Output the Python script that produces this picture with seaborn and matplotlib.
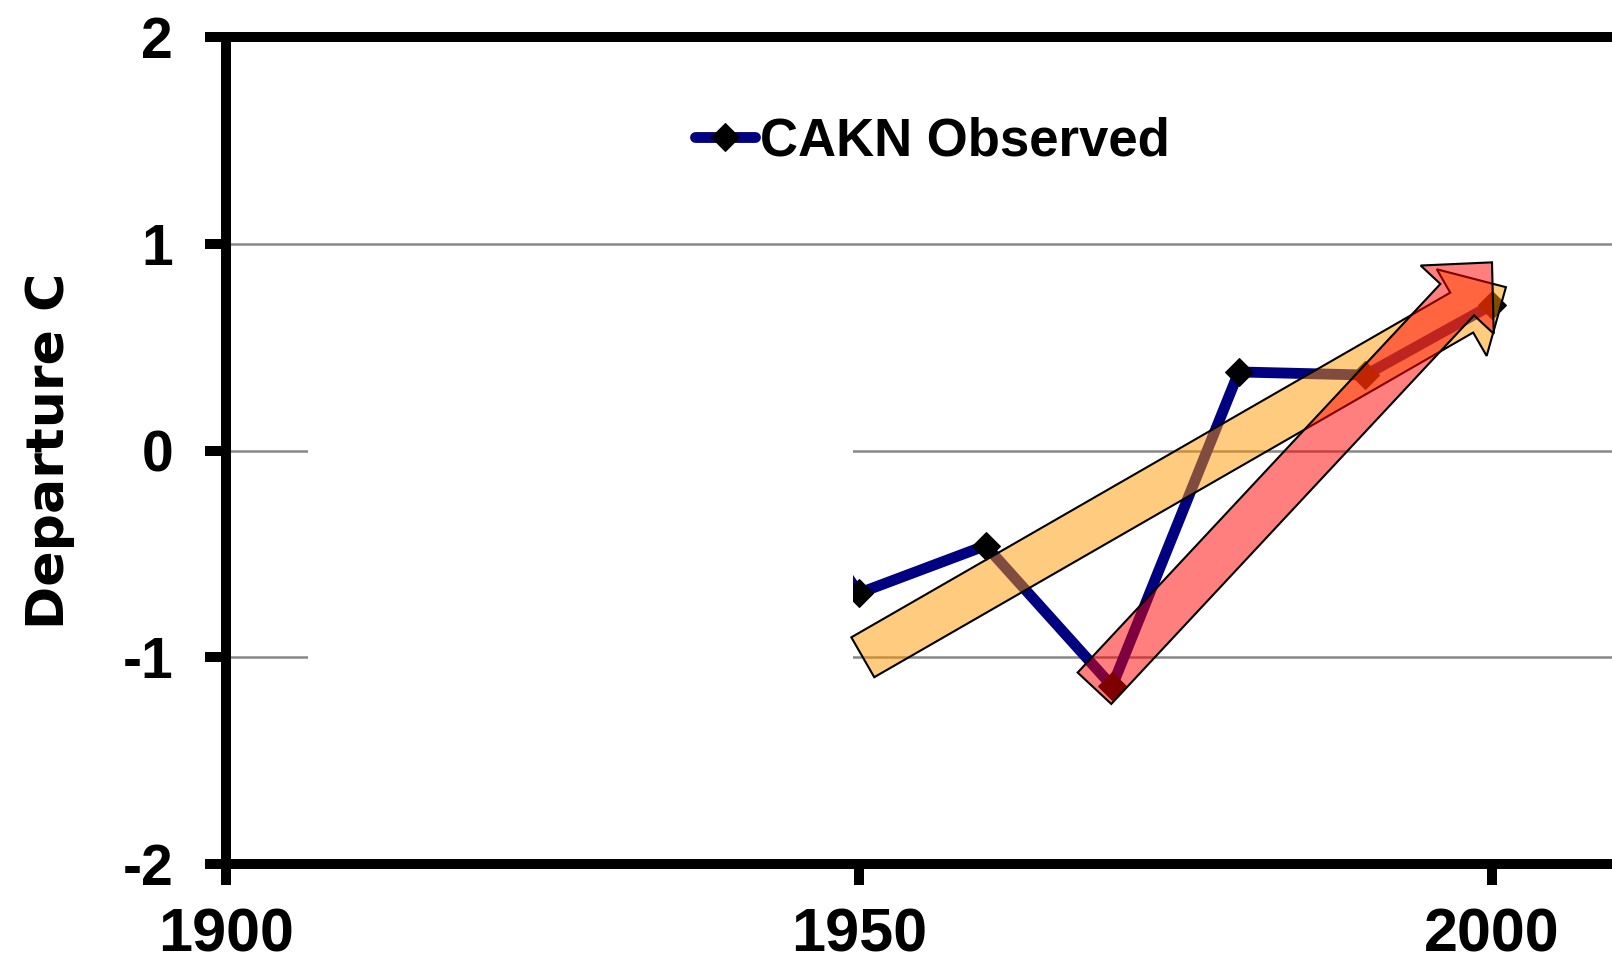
import matplotlib
matplotlib.use("Agg")
import matplotlib.pyplot as plt
from matplotlib.patches import Polygon, Rectangle
import seaborn as sns
import numpy as np

# decade means, departure in C (1940 lies under the white mask)
years = [1940, 1950, 1960, 1970, 1980, 1990, 2000]
departure = [0.2, -0.69, -0.46, -1.14, 0.38, 0.365, 0.705]
series_name = "CAKN Observed"

# trend arrows: start year, start value, end year, end value
arrow_long = (1950.3, -1.0, 2001.1, 0.79)
arrow_short = (1968.6, -1.15, 2000.0, 0.91)

# white patch hiding the early record: x0, x1, y0, y1
mask_box = (1906.5, 1949.5, -2.0, 0.9)

x_ticks = [1900, 1950, 2000]
y_ticks = [-2, -1, 0, 1, 2]

sns.set_theme(style="white")
plt.rcParams["font.family"] = ["Liberation Sans", "DejaVu Sans"]
plt.rcParams["axes.unicode_minus"] = False
for key in ["text.color", "axes.labelcolor", "xtick.color", "ytick.color"]:
    plt.rcParams[key] = "black"

W, H = 1612, 966
fig = plt.figure(figsize=(W / 100, H / 100), dpi=100)
ax = fig.add_axes([226 / W, 102 / H, 1392.6 / W, 827 / H])
ax.set_xlim(1900, 2010)
ax.set_ylim(-2, 2)

sns.lineplot(x=years, y=departure, ax=ax, color="#000080", lw=7.8,
             marker="D", markersize=14, markerfacecolor="black",
             markeredgecolor="black", label=series_name, zorder=2)

ax.add_patch(Rectangle((mask_box[0], mask_box[2]), mask_box[1] - mask_box[0],
                       mask_box[3] - mask_box[2], facecolor="white",
                       edgecolor="none", zorder=2.3))


def block_arrow(ax, spec, rgba, z):
    x0, y0, x1, y1 = spec
    p0 = ax.transData.transform((x0, y0))
    p1 = ax.transData.transform((x1, y1))
    d = p1 - p0
    u = d / np.hypot(*d)
    n = np.array([-u[1], u[0]])
    shaft, head_w, head_l = 23, 50, 51
    base = p1 - u * head_l
    pts = [p0 + n * shaft, base + n * shaft, base + n * head_w, p1,
           base - n * head_w, base - n * shaft, p0 - n * shaft]
    pts = ax.transData.inverted().transform(np.array(pts))
    ax.add_patch(Polygon(pts, closed=True, facecolor=rgba, edgecolor="black",
                         lw=1.5, joinstyle="miter", zorder=z))


block_arrow(ax, arrow_long, (1.0, 0.6, 0.0, 0.5), 3)
block_arrow(ax, arrow_short, (1.0, 0.0, 0.0, 0.5), 4)

ax.set_xticks(x_ticks)
ax.set_yticks(y_ticks)
ax.grid(axis="y", color="#888888", lw=1.8)
ax.grid(axis="x", visible=False)
ax.set_axisbelow(True)
ax.tick_params(axis="both", direction="out", length=15, width=7.2, color="black",
               left=True, bottom=True)
ax.tick_params(axis="x", labelsize=44, pad=16)
ax.tick_params(axis="y", labelsize=41, pad=23)
for lab in ax.get_xticklabels() + ax.get_yticklabels():
    lab.set_fontweight("bold")

for side in ["left", "bottom", "top", "right"]:
    ax.spines[side].set_color("black")
    ax.spines[side].set_linewidth(7.2)

ax.set_ylabel("Departure C", fontsize=37.5, fontweight="bold", family="DejaVu Sans")
ax.yaxis.set_label_coords(-0.1086, 0.5)

ax.legend(loc="center left", bbox_to_anchor=(695 / W, 1 - 141 / H),
          bbox_transform=fig.transFigure, frameon=False,
          prop={"size": 38, "weight": "bold"}, handlelength=1.14,
          handletextpad=0.1, borderpad=0, borderaxespad=0)

fig.savefig("out.png", dpi=100)
plt.close(fig)
